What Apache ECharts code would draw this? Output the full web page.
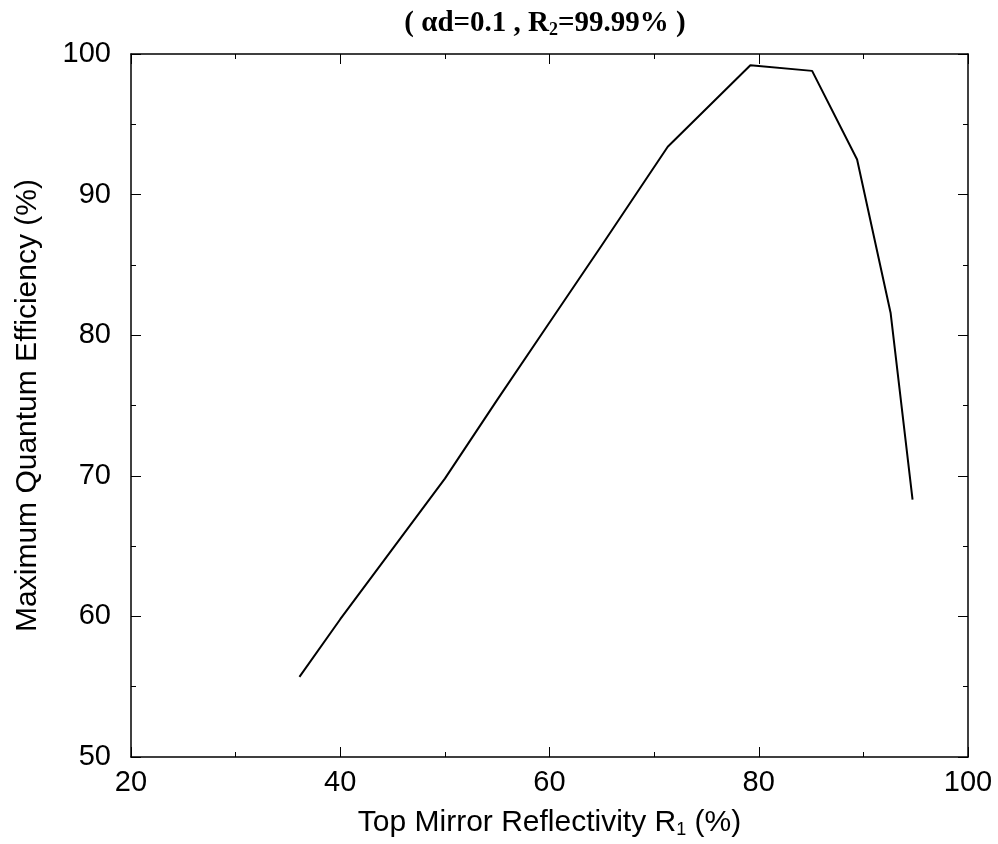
<!DOCTYPE html>
<html>
<head>
    <meta charset="UTF-8">
    <title>Maximum Quantum Efficiency vs Top Mirror Reflectivity</title>
    <style>
        html, body { margin: 0; padding: 0; background: #fff; }
    </style>
</head>
<body>
<div id="main" style="width: 998px;height:844px;"></div>
<script src="https://cdn.jsdelivr.net/npm/echarts@6/dist/echarts.min.js"></script>
<script>
    // reflectivity R1 (%) and max quantum efficiency (%)
    var reflectivity = [36.1, 40, 45, 50, 55, 60, 65, 71.3, 79.2, 85.1, 89.4, 92.6, 94.7];
    var efficiency = [55.7, 59.8, 64.8, 69.8, 75.4, 80.9, 86.4, 93.4, 99.2, 98.8, 92.5, 81.6, 68.3];

    var xTicks = [20, 40, 60, 80, 100];
    var yTicks = [50, 60, 70, 80, 90, 100];

    var data = [];
    for (var i = 0; i < reflectivity.length; i++) {
        data.push([reflectivity[i], efficiency[i]]);
    }

    var sansFont = '"Liberation Sans", Arial, sans-serif';
    var serifFont = '"Liberation Serif", "Times New Roman", serif';

    function xAxisCfg(pos, showLabels) {
        return {
            type: 'value',
            position: pos,
            min: 20,
            max: 100,
            interval: 20,
            axisLine: {show: true, onZero: false, lineStyle: {color: '#000', width: 1.5}},
            axisTick: {show: true, inside: true, length: 10, lineStyle: {color: '#000', width: 1}},
            minorTick: {show: true, splitNumber: 2, length: 5, lineStyle: {color: '#000', width: 1}},
            splitLine: {show: false},
            axisLabel: {show: showLabels, color: '#000', fontSize: 29, fontFamily: sansFont, margin: 11,
                formatter: function (v) { return xTicks.indexOf(v) >= 0 ? v : ''; }}
        };
    }

    function yAxisCfg(pos, showLabels) {
        return {
            type: 'value',
            position: pos,
            min: 50,
            max: 100,
            interval: 10,
            axisLine: {show: true, onZero: false, lineStyle: {color: '#000', width: 1.5}},
            axisTick: {show: true, inside: true, length: 10, lineStyle: {color: '#000', width: 1}},
            minorTick: {show: true, splitNumber: 2, length: 5, lineStyle: {color: '#000', width: 1}},
            splitLine: {show: false},
            axisLabel: {show: showLabels, color: '#000', fontSize: 29, fontFamily: sansFont, margin: 20,
                formatter: function (v) { return yTicks.indexOf(v) >= 0 ? v : ''; }}
        };
    }

    var myChart = echarts.init(document.getElementById('main'));

    var bottomX = xAxisCfg('bottom', true);
    bottomX.name = '{n|Top Mirror Reflectivity R}{s|1}{n| (%)}';
    bottomX.nameLocation = 'middle';
    bottomX.nameGap = 50;
    bottomX.nameTextStyle = {
        rich: {
            n: {fontSize: 30, fontFamily: sansFont, color: '#000'},
            s: {fontSize: 18, fontFamily: sansFont, color: '#000', padding: [14, 0, 0, 0]}
        }
    };

    var leftY = yAxisCfg('left', true);
    leftY.name = 'Maximum Quantum Efficiency (%)';
    leftY.nameLocation = 'middle';
    leftY.nameGap = 88;
    leftY.nameRotate = 90;
    leftY.nameTextStyle = {fontSize: 30, fontFamily: sansFont, color: '#000'};

    var option = {
        backgroundColor: '#fff',
        animation: false,
        title: {
            text: '{a|( \u03b1d=0.1 , R}{s|2}{a|=99.99% )}',
            left: 540,
            top: 4,
            textAlign: 'center',
            textStyle: {
                rich: {
                    a: {fontSize: 29, fontWeight: 'bold', fontFamily: serifFont, color: '#000'},
                    s: {fontSize: 18, fontWeight: 'bold', fontFamily: serifFont, color: '#000', padding: [12, 0, 0, 0]}
                }
            }
        },
        grid: {left: 131, right: 30, top: 54, bottom: 87, containLabel: false},
        xAxis: [bottomX, xAxisCfg('top', false)],
        yAxis: [leftY, yAxisCfg('right', false)],
        series: [{
            type: 'line',
            data: data,
            xAxisIndex: 0,
            yAxisIndex: 0,
            showSymbol: false,
            symbol: 'none',
            lineStyle: {color: '#000', width: 2}
        }]
    };

    myChart.setOption(option);
</script>
</body>
</html>
